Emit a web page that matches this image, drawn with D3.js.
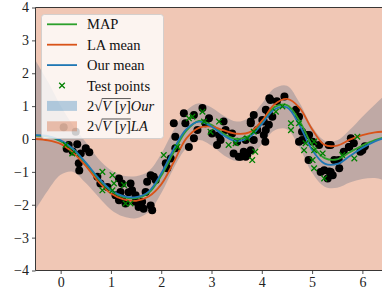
<!DOCTYPE html>
<html>
<head>
<meta charset="utf-8">
<script src="https://cdn.jsdelivr.net/npm/d3@7"></script>
<style>
  body { margin: 0; background: #fff; }
  svg { display: block; }
  text { font-family: "Liberation Serif", "DejaVu Serif", serif; }
</style>
</head>
<body>
<svg id="chart" width="382" height="294"></svg>
<script>
// curve grid and read-off values
var gridX = [-0.5, -0.25, 0, 0.25, 0.5, 0.75, 1, 1.25, 1.5, 1.75, 2, 2.25, 2.5, 2.75, 3, 3.25, 3.5, 3.75, 4, 4.25, 4.5, 4.75, 5, 5.25, 5.5, 5.75, 6, 6.25, 6.5];
var mapMean = [0.1, 0.07, -0.07, -0.33, -0.75, -1.22, -1.58, -1.77, -1.8, -1.64, -1.12, -0.4, 0.25, 0.55, 0.43, 0.15, 0.0, 0.1, 0.5, 0.97, 1.03, 0.55, -0.18, -0.58, -0.62, -0.4, -0.2, -0.03, 0.08];
var laMean = [0.0, -0.04, -0.15, -0.42, -0.82, -1.3, -1.66, -1.84, -1.88, -1.75, -1.38, -0.7, 0.02, 0.34, 0.38, 0.26, 0.16, 0.2, 0.55, 1.05, 1.22, 0.95, 0.3, -0.18, -0.2, -0.02, 0.12, 0.2, 0.23];
var ourMean = [0.12, 0.09, -0.04, -0.3, -0.72, -1.18, -1.55, -1.74, -1.77, -1.6, -1.05, -0.3, 0.3, 0.53, 0.38, 0.1, -0.07, 0.05, 0.45, 0.9, 0.96, 0.42, -0.33, -0.75, -0.76, -0.52, -0.27, -0.07, 0.06];
var ourBand = [2.27, 1.65, 1.05, 0.7, 0.62, 0.58, 0.6, 0.62, 0.64, 0.62, 0.6, 0.58, 0.57, 0.56, 0.58, 0.6, 0.6, 0.6, 0.62, 0.64, 0.66, 0.68, 0.7, 0.7, 0.72, 0.8, 0.95, 1.12, 1.35];
var laBand = [7.4, 7.1, 6.9, 6.7, 6.6, 6.5, 6.4, 6.4, 6.4, 6.4, 6.4, 6.4, 6.4, 6.4, 6.4, 6.4, 6.4, 6.4, 6.4, 6.4, 6.4, 6.4, 6.5, 6.6, 6.7, 6.8, 7.0, 7.2, 7.4];

// training points
var trainX = [0.06, 0.3, 0.16, 0.33, 0.5, 0.57, 0.4, 0.24, 0.36, 0.37, 0.12,
  0.73, 0.79, 0.93, 1.16, 1.22, 1.39, 1.42, 1.19, 1.09, 1.22, 1.35, 1.49, 1.16, 1.29, 1.49, 1.55, 1.65, 1.79, 1.82, 1.62, 1.72, 1.85, 1.69, 1.89, 1.79,
  2.09, 2.12, 2.19, 2.28, 2.25, 2.28, 2.45, 2.48, 2.55, 2.65, 2.72, 2.82, 2.88, 2.95, 3.01, 3.11, 3.15, 3.18, 3.24, 3.28, 3.41, 3.44, 3.51, 3.54, 3.64, 3.68, 3.78, 3.78, 3.84, 3.91, 4.04, 4.07, 4.01, 4.14, 4.14, 2.65,
  4.15, 4.45, 4.08, 4.21, 4.08, 4.68, 4.74, 4.94, 4.74, 5.01, 5.14, 5.37, 5.44, 5.54, 5.34, 5.31, 5.41, 5.24, 5.77, 5.83, 5.74, 6.0, 3.68, 3.84, 3.71, 3.58, 4.04, 3.78,
  4.8, 4.8, 4.9, 4.93, 5.17, 5.37, 5.33, 5.53, 5.63, 5.73, 5.96, 6.05, 4.3, 4.17];
var trainY = [0.36, 0.22, -0.18, -0.16, -0.28, -0.4, -0.44, -0.38, -0.74, -0.96, -0.3,
  -1.15, -1.35, -1.46, -1.2, -1.35, -1.35, -1.56, -1.61, -1.71, -1.81, -1.62, -1.71, -1.86, -1.96, -1.91, -2.07, -2.12, -2.02, -2.17, -1.91, -1.3, -1.15, -1.61, -1.25, -1.1,
  -0.74, -0.89, -0.59, -0.28, 0.48, 0.07, 0.78, 0.48, -0.24, 0.02, 0.27, 0.94, 0.48, 0.63, 0.17, -0.18, 0.12, -0.03, 0.53, 0.27, 0.17, -0.44, -0.08, -0.54, -0.39, -0.54, -0.34, 0.48, 0.73, 0.27, 0.12, -0.08, 0.58, 0.78, 0.43, 0.73,
  1.24, 1.29, 0.89, 0.68, 0.27, 0.89, 0.68, 0.12, -0.08, -0.08, -0.18, -0.18, -0.64, -0.89, -0.99, -1.2, -1.1, -0.95, 0.02, -0.13, -0.24, -0.34, -0.03, -0.03, -0.49, -0.54, 0.53, 0.53,
  0.22, -0.03, 0.12, -0.64, -1.0, -1.0, -0.18, -0.64, -0.39, -0.24, -0.39, -0.22, 1.15, 1.19];

// test points
var testX = [0.1, 0.23, 0.83, 1.03, 1.06, 1.26, 0.83, 1.03, 1.29, 1.39, 2.05, 2.32, 2.55, 2.62, 2.82, 2.85, 2.98, 3.15, 3.34, 3.48, 3.71, 3.84, 3.87, 3.81, 4.28, 4.41, 4.58, 4.58, 4.74, 4.87, 5.04, 4.84, 5.04, 5.21, 5.01, 5.04, 5.24, 5.6, 5.84, 5.9];
var testY = [-0.18, -0.44, -1.0, -1.1, -1.35, -1.4, -1.56, -1.56, -1.96, -1.96, -0.49, -0.24, 0.63, 0.68, 0.83, 0.53, 0.22, 0.53, -0.18, -0.13, 0.02, 0.22, -0.39, -0.64, 0.83, 0.99, 0.48, 0.27, 0.48, -0.13, -0.08, -0.34, -0.34, -0.44, -0.64, -0.89, -1.2, -0.49, -0.59, 0.07];

var yTicks = [-4, -3, -2, -1, 0, 1, 2, 3, 4];
var xTicks = [0, 1, 2, 3, 4, 5, 6];

var W = 382, H = 294;
var plotLeft = 35.5, plotTop = 7.5, plotBottom = 270.5;

var svg = d3.select("#chart");
var xScale = d3.scaleLinear().domain([-0.5, 6.4]).range([plotLeft, 382.5]);
var yScale = d3.scaleLinear().domain([-4, 4]).range([plotBottom, plotTop]);

var colMap = "#2ca02c", colLa = "#d95319", colOur = "#1f77b4", colTest = "#008000";

svg.append("defs").append("clipPath").attr("id", "clip")
  .append("rect").attr("x", plotLeft).attr("y", plotTop).attr("width", W - plotLeft + 10).attr("height", plotBottom - plotTop);

var plot = svg.append("g").attr("clip-path", "url(#clip)");

var rows = gridX.map(function(v, i) {
  return {x: v, map: mapMean[i], la: laMean[i], our: ourMean[i], ob: ourBand[i], lb: laBand[i]};
});

// bands: ours first, LA over it
var ourArea = d3.area().curve(d3.curveCatmullRom)
  .x(function(d) { return xScale(d.x); })
  .y0(function(d) { return yScale(d.our - d.ob); })
  .y1(function(d) { return yScale(d.our + d.ob); });
var laArea = d3.area().curve(d3.curveCatmullRom)
  .x(function(d) { return xScale(d.x); })
  .y0(function(d) { return yScale(d.la - d.lb); })
  .y1(function(d) { return yScale(d.la + d.lb); });

plot.append("path").datum(rows).attr("d", ourArea).attr("fill", colOur).attr("fill-opacity", 0.32);
plot.append("path").datum(rows).attr("d", laArea).attr("fill", "#d0541f").attr("fill-opacity", 0.33);

// training data
plot.selectAll("circle.train")
  .data(trainX.map(function(v, i) { return [v, trainY[i]]; }))
  .enter().append("circle")
  .attr("class", "train")
  .attr("cx", function(d) { return xScale(d[0]); })
  .attr("cy", function(d) { return yScale(d[1]); })
  .attr("r", 4)
  .attr("fill", "#000");

// mean lines
function lineOf(key) {
  return d3.line().curve(d3.curveCatmullRom)
    .x(function(d) { return xScale(d.x); })
    .y(function(d) { return yScale(d[key]); });
}
plot.append("path").datum(rows).attr("d", lineOf("map")).attr("fill", "none").attr("stroke", colMap).attr("stroke-width", 1.8);
plot.append("path").datum(rows).attr("d", lineOf("la")).attr("fill", "none").attr("stroke", colLa).attr("stroke-width", 1.8);
plot.append("path").datum(rows).attr("d", lineOf("our")).attr("fill", "none").attr("stroke", colOur).attr("stroke-width", 1.8);

// test points as x markers
var xm = 2.8;
var tp = plot.selectAll("g.test")
  .data(testX.map(function(v, i) { return [v, testY[i]]; }))
  .enter().append("g")
  .attr("class", "test")
  .attr("transform", function(d) { return "translate(" + xScale(d[0]) + "," + yScale(d[1]) + ")"; });
tp.append("path")
  .attr("d", "M" + (-xm) + "," + (-xm) + "L" + xm + "," + xm + "M" + (-xm) + "," + xm + "L" + xm + "," + (-xm))
  .attr("stroke", colTest).attr("stroke-width", 1.3).attr("fill", "none");

// axes
var fmt = function(d) { return d < 0 ? "\u2212" + Math.abs(d) : "" + d; };
var gy = svg.append("g").attr("transform", "translate(" + plotLeft + ",0)")
  .call(d3.axisLeft(yScale).tickValues(yTicks).tickSize(3.5).tickPadding(3).tickFormat(fmt));
var gx = svg.append("g").attr("transform", "translate(0," + plotBottom + ")")
  .call(d3.axisBottom(xScale).tickValues(xTicks).tickSize(3.5).tickPadding(3).tickFormat(fmt));
[gy, gx].forEach(function(g) {
  g.select(".domain").remove();
  g.selectAll(".tick line").attr("stroke", "#222").attr("stroke-width", 0.8);
  g.selectAll(".tick text").attr("fill", "#222").style("font-size", "14px").style("font-family", "'Liberation Serif', serif");
});

// spines (the right one is cut off)
svg.append("line").attr("x1", plotLeft).attr("x2", plotLeft).attr("y1", plotTop).attr("y2", plotBottom).attr("stroke", "#222").attr("stroke-width", 0.9);
svg.append("line").attr("x1", plotLeft).attr("x2", W).attr("y1", plotTop).attr("y2", plotTop).attr("stroke", "#222").attr("stroke-width", 0.9);
svg.append("line").attr("x1", plotLeft).attr("x2", W).attr("y1", plotBottom).attr("y2", plotBottom).attr("stroke", "#222").attr("stroke-width", 0.9);

// legend
var lg = svg.append("g");
lg.append("rect").attr("x", 41.5).attr("y", 14.5).attr("width", 122).attr("height", 124).attr("rx", 3)
  .attr("fill", "#fff").attr("fill-opacity", 0.8).attr("stroke", "#ccc").attr("stroke-opacity", 0.8);

var ly = function(i) { return 24.3 + i * 20.4; };
var hx0 = 47, hx1 = 77, tx = 87;
[["MAP", colMap], ["LA mean", colLa], ["Our mean", colOur]].forEach(function(e, i) {
  lg.append("line").attr("x1", hx0).attr("x2", hx1).attr("y1", ly(i)).attr("y2", ly(i)).attr("stroke", e[1]).attr("stroke-width", 1.8);
  lg.append("text").attr("x", tx).attr("y", ly(i)).attr("dy", "0.35em").style("font-size", "14.5px").attr("fill", "#111").text(e[0]);
});
lg.append("path")
  .attr("transform", "translate(" + (hx0 + hx1) / 2 + "," + ly(3) + ")")
  .attr("d", "M" + (-xm) + "," + (-xm) + "L" + xm + "," + xm + "M" + (-xm) + "," + xm + "L" + xm + "," + (-xm))
  .attr("stroke", colTest).attr("stroke-width", 1.3);
lg.append("text").attr("x", tx).attr("y", ly(3)).attr("dy", "0.35em").style("font-size", "14.5px").attr("fill", "#111").text("Test points");

[["Our", colOur, 0.32], ["LA", "#d0541f", 0.33]].forEach(function(e, k) {
  var yy = ly(4 + k);
  lg.append("rect").attr("x", hx0).attr("y", yy - 5).attr("width", hx1 - hx0).attr("height", 10)
    .attr("fill", e[1]).attr("fill-opacity", e[2]);
  var t = lg.append("text").attr("x", tx).attr("y", yy).attr("dy", "0.35em").style("font-size", "14.5px").attr("fill", "#111");
  t.append("tspan").text("2\u221A");
  t.append("tspan").style("font-style", "italic").text("V");
  t.append("tspan").text(" [");
  t.append("tspan").style("font-style", "italic").text("y");
  t.append("tspan").text("]");
  t.append("tspan").style("font-style", "italic").text(e[0]);
  // radical bar over "V [y]"
  var node = t.node();
  var s = node.getStartPositionOfChar(1).x + node.getExtentOfChar(1).width - 0.5;
  var en = node.getEndPositionOfChar(6).x;
  var topY = node.getExtentOfChar(1).y + 0.6;
  lg.append("line").attr("x1", s).attr("x2", en).attr("y1", topY).attr("y2", topY).attr("stroke", "#111").attr("stroke-width", 0.7);
});
</script>
</body>
</html>
